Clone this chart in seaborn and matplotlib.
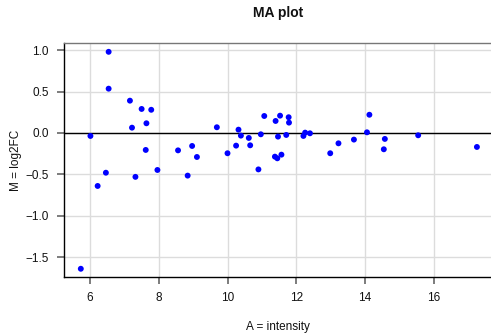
import matplotlib
matplotlib.use("Agg")
import matplotlib.pyplot as plt
import seaborn as sns
import pandas as pd

A = [6.54, 6.54, 7.16, 7.50, 7.78, 7.64, 7.22, 6.01, 7.62, 8.56, 8.97, 9.11,
     5.73, 6.22, 6.46, 7.32, 7.96, 8.84,
     9.69, 10.0, 10.25, 10.32, 10.39, 10.62, 10.66, 10.90, 10.97, 11.07, 11.40,
     11.53, 11.78, 11.79, 11.47, 11.71, 11.38, 11.45, 11.57, 12.21, 12.26, 12.40,
     12.99, 13.23, 13.68, 14.06, 14.13, 14.58, 14.55, 15.55, 17.26]
M = [0.98, 0.535, 0.39, 0.29, 0.28, 0.117, 0.064, -0.036, -0.205, -0.21, -0.157, -0.29,
     -1.64, -0.64, -0.48, -0.53, -0.447, -0.515,
     0.069, -0.245, -0.153, 0.04, -0.032, -0.06, -0.149, -0.44, -0.016, 0.205, 0.145,
     0.209, 0.19, 0.125, -0.044, -0.024, -0.286, -0.306, -0.262, -0.036, 0.004, -0.004,
     -0.245, -0.125, -0.08, 0.008, 0.22, -0.072, -0.197, -0.028, -0.169]

x_ticks = [6, 8, 10, 12, 14, 16]
y_ticks = [-1.5, -1.0, -0.5, 0.0, 0.5, 1.0]

df = pd.DataFrame({"A": A, "M": M})

sns.set_style("white")
plt.rcParams['font.family'] = ['Liberation Sans', 'DejaVu Sans']
plt.rcParams['text.color'] = '#111111'
plt.rcParams['axes.labelcolor'] = '#111111'
plt.rcParams['xtick.labelcolor'] = '#111111'
plt.rcParams['ytick.labelcolor'] = '#111111'

fig = plt.figure(figsize=(4.91, 3.35), dpi=100)
ax = fig.add_axes([0.131, 0.173, 0.869, 0.6995])

ax.set_xlim(5.25, 17.67)
ax.set_ylim(-1.74, 1.09)
ax.set_xticks(x_ticks)
ax.set_yticks(y_ticks)
ax.set_yticklabels([f"{v:.1f}".replace("-", "\u2212") for v in y_ticks])
ax.grid(True, color="#dcdcdc", linewidth=1.0)
ax.set_axisbelow(True)
ax.axhline(0, color="black", linewidth=1.0, zorder=1)

sns.scatterplot(data=df, x="A", y="M", ax=ax, color="#0000ff", s=18,
                edgecolor="none", zorder=3)

for s in ["left", "bottom"]:
    ax.spines[s].set_color("black")
    ax.spines[s].set_linewidth(1.0)
ax.spines["top"].set_color("#777777")
ax.spines["top"].set_linewidth(1.0)
ax.spines["right"].set_visible(False)

ax.tick_params(axis="both", which="major", bottom=True, left=True, top=False, right=False,
               direction="out", length=5, width=1.2, color="#666666",
               labelsize=8.5, pad=6)
ax.set_xlabel("A = intensity", fontsize=8.5, labelpad=12)
ax.set_ylabel("M = log2FC", fontsize=8.5, labelpad=3)
fig.text(0.567, 0.96, "MA plot", ha="center", va="center", fontsize=10, fontweight="bold")

fig.savefig("out.png", dpi=100)
